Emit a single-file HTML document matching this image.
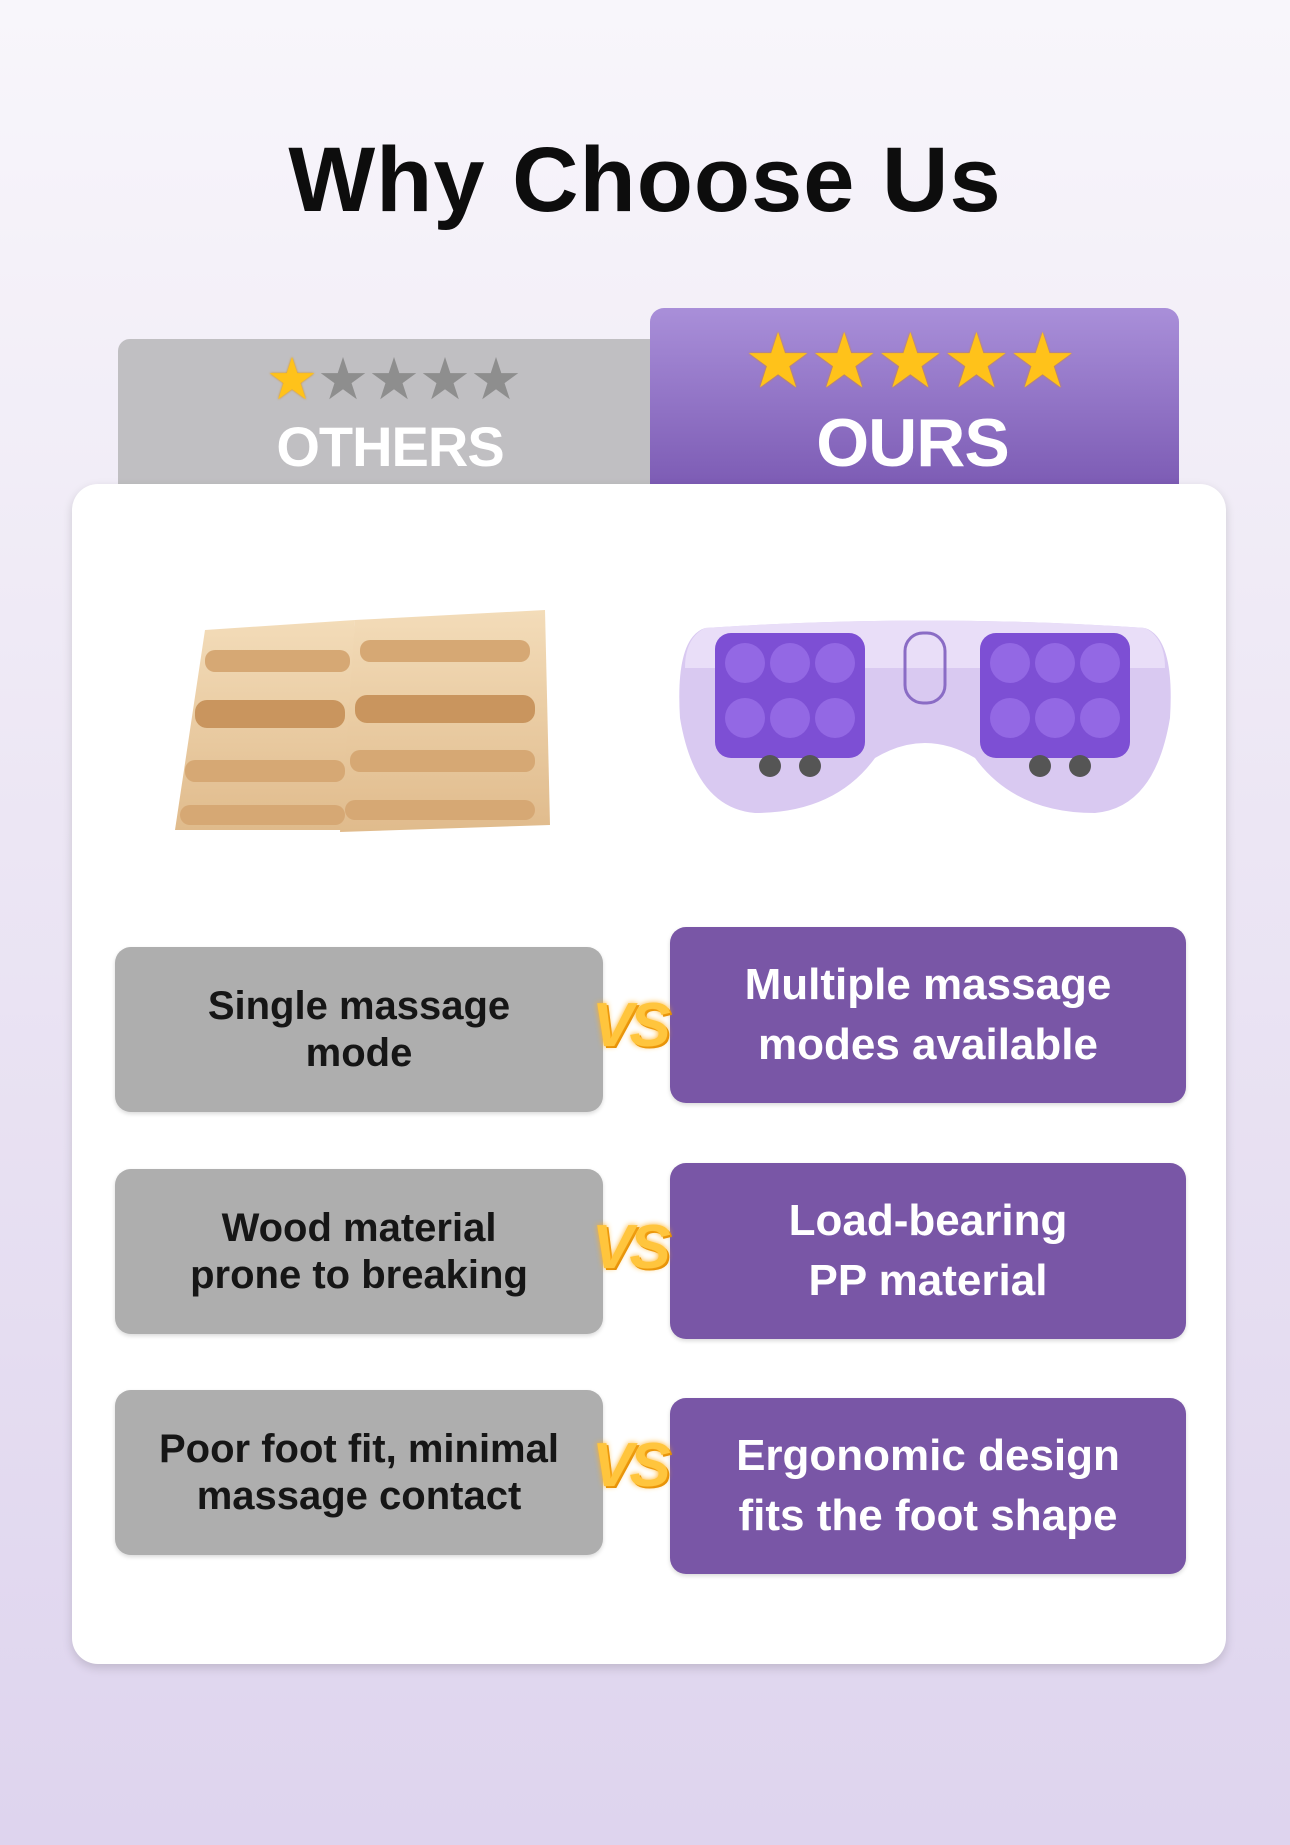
<!DOCTYPE html>
<html><head><meta charset="utf-8"><style>
*{margin:0;padding:0;box-sizing:border-box}
body{width:1290px;height:1845px;overflow:hidden;background:linear-gradient(#f8f6fb,#ece6f4 45%,#ded4ee);font-family:"Liberation Sans",sans-serif;position:relative}
.abs{position:absolute}
h1{position:absolute;left:0;width:1290px;top:128px;text-align:center;font-size:92px;font-weight:900;color:#0d0d0d;letter-spacing:1px}
.tab1{left:118px;top:339px;width:560px;height:150px;background:#c0bfc2;border-radius:12px 0 0 0}
.tab2{left:650px;top:308px;width:529px;height:180px;background:linear-gradient(#a98fd9,#7c5bb4);border-radius:14px 14px 0 0}
.card{left:72px;top:484px;width:1154px;height:1180px;background:#fff;border-radius:26px;box-shadow:0 4px 10px rgba(0,0,0,.15)}
.lbl{color:#fff;font-weight:700;text-align:center}
.g{background:#aeaeae;border-radius:16px;display:flex;align-items:center;justify-content:center;text-align:center;font-size:40px;font-weight:700;line-height:47px;color:#161616;box-shadow:0 2px 4px rgba(0,0,0,.15)}
.p{background:#7956a6;border-radius:16px;display:flex;align-items:center;justify-content:center;text-align:center;font-size:44px;font-weight:700;line-height:60px;color:#fff;box-shadow:0 2px 4px rgba(0,0,0,.15)}
.vs{font-size:62px;font-weight:900;font-style:italic;color:#ffc53d;text-shadow:0 0 6px #ffb020,2px 2px 0 #e08a00;letter-spacing:-4px}
.stars{color:#ffc21a;text-shadow:0 0 2px #e08d00}
</style></head><body>
<h1>Why Choose Us</h1>
<div class="abs tab1"></div>
<div class="abs tab2"></div>
<div class="abs stars" style="left:266px;top:345px;font-size:58px;letter-spacing:-1px"><span>★</span><span style="color:#8e8e8e;text-shadow:none">★★★★</span></div>
<div class="abs lbl" style="left:124px;width:532px;top:414px;font-size:56px;letter-spacing:-1px">OTHERS</div>
<div class="abs stars" style="left:744px;top:316px;font-size:76px;letter-spacing:-2px">★★★★★</div>
<div class="abs lbl" style="left:648px;width:529px;top:404px;font-size:68px;letter-spacing:-1px">OURS</div>
<div class="abs card"></div>
<svg class="abs" style="left:165px;top:600px" width="400" height="245" viewBox="0 0 400 245">
<defs><linearGradient id="w" x1="0" y1="0" x2="0" y2="1"><stop offset="0" stop-color="#f3dcb9"/><stop offset="1" stop-color="#e0bb8c"/></linearGradient></defs>
<path d="M40 30 L190 20 L180 230 L10 230 Z" fill="url(#w)"/>
<path d="M190 20 L380 10 L385 225 L175 232 Z" fill="url(#w)"/>
<g fill="#d6a874">
<rect x="40" y="50" width="145" height="22" rx="10"/><rect x="30" y="100" width="150" height="28" rx="12" fill="#c9955e"/><rect x="20" y="160" width="160" height="22" rx="10"/><rect x="15" y="205" width="165" height="20" rx="10"/>
<rect x="195" y="40" width="170" height="22" rx="10"/><rect x="190" y="95" width="180" height="28" rx="12" fill="#c9955e"/><rect x="185" y="150" width="185" height="22" rx="10"/><rect x="180" y="200" width="190" height="20" rx="10"/>
</g></svg>
<svg class="abs" style="left:675px;top:608px" width="500" height="215" viewBox="0 0 500 215">
<path d="M30 20 Q250 5 470 20 Q500 30 495 110 Q480 200 420 205 Q340 205 300 150 Q250 120 200 150 Q160 205 80 205 Q20 200 5 110 Q0 30 30 20Z" fill="#d9c9f1"/>
<path d="M30 20 Q250 5 470 20 Q490 30 490 60 L10 60 Q10 30 30 20Z" fill="#e9def8"/>
<rect x="40" y="25" width="150" height="125" rx="16" fill="#7d4fd4"/>
<rect x="305" y="25" width="150" height="125" rx="16" fill="#7d4fd4"/>
<g fill="#9368e4"><circle cx="70" cy="55" r="20"/><circle cx="115" cy="55" r="20"/><circle cx="160" cy="55" r="20"/><circle cx="70" cy="110" r="20"/><circle cx="115" cy="110" r="20"/><circle cx="160" cy="110" r="20"/><circle cx="335" cy="55" r="20"/><circle cx="380" cy="55" r="20"/><circle cx="425" cy="55" r="20"/><circle cx="335" cy="110" r="20"/><circle cx="380" cy="110" r="20"/><circle cx="425" cy="110" r="20"/></g>
<g fill="#555"><circle cx="95" cy="158" r="11"/><circle cx="135" cy="158" r="11"/><circle cx="365" cy="158" r="11"/><circle cx="405" cy="158" r="11"/></g>
<rect x="230" y="25" width="40" height="70" rx="18" fill="none" stroke="#8a6cc5" stroke-width="3"/>
</svg>
<div class="abs g" style="left:115px;top:947px;width:488px;height:165px">Single massage<br>mode</div>
<div class="abs g" style="left:115px;top:1169px;width:488px;height:165px">Wood material<br>prone to breaking</div>
<div class="abs g" style="left:115px;top:1390px;width:488px;height:165px">Poor foot fit, minimal<br>massage contact</div>
<div class="abs p" style="left:670px;top:927px;width:516px;height:176px">Multiple massage<br>modes available</div>
<div class="abs p" style="left:670px;top:1163px;width:516px;height:176px">Load-bearing<br>PP material</div>
<div class="abs p" style="left:670px;top:1398px;width:516px;height:176px">Ergonomic design<br>fits the foot shape</div>
<div class="abs vs" style="left:592px;top:990px">VS</div>
<div class="abs vs" style="left:592px;top:1212px">VS</div>
<div class="abs vs" style="left:592px;top:1430px">VS</div>
</body></html>
